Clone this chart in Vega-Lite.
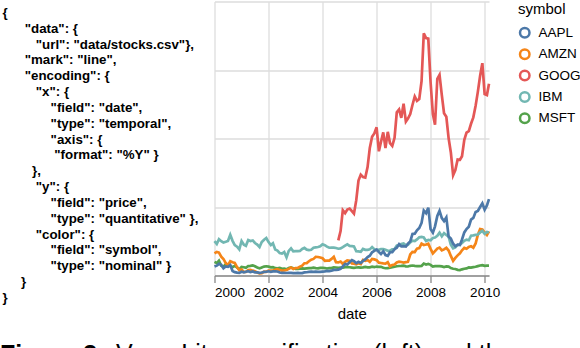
{
  "$schema": "https://vega.github.io/schema/vega-lite/v6.json",
  "background": "white",
  "padding": {"left": 0, "top": 1.5, "right": 0, "bottom": 0},
  "bounds": "flush",
  "spacing": 14.5,
  "config": {
    "font": "Liberation Sans",
    "view": {"stroke": null},
    "title": {"color": "#000"}
  },
  "hconcat": [
    {
      "width": 200,
      "height": 274,
      "title": {"text": "Figure 3.", "orient": "bottom", "anchor": "start", "frame": "group", "fontSize": 25, "fontWeight": "bold", "offset": 39, "color": "#000"},
      "data": {"values": [
        {"line": 0, "indent": 0, "code": "{"},
        {"line": 1, "indent": 6, "code": "\"data\": {"},
        {"line": 2, "indent": 9, "code": "\"url\": \"data/stocks.csv\"},"},
        {"line": 3, "indent": 6, "code": "\"mark\": \"line\","},
        {"line": 4, "indent": 6, "code": "\"encoding\": {"},
        {"line": 5, "indent": 9, "code": "\"x\": {"},
        {"line": 6, "indent": 13, "code": "\"field\": \"date\","},
        {"line": 7, "indent": 13, "code": "\"type\": \"temporal\","},
        {"line": 8, "indent": 13, "code": "\"axis\": {"},
        {"line": 9, "indent": 14, "code": "\"format\": \"%Y\" }"},
        {"line": 10, "indent": 8, "code": "},"},
        {"line": 11, "indent": 9, "code": "\"y\": {"},
        {"line": 12, "indent": 13, "code": "\"field\": \"price\","},
        {"line": 13, "indent": 13, "code": "\"type\": \"quantitative\" },"},
        {"line": 14, "indent": 9, "code": "\"color\": {"},
        {"line": 15, "indent": 13, "code": "\"field\": \"symbol\","},
        {"line": 16, "indent": 13, "code": "\"type\": \"nominal\" }"},
        {"line": 17, "indent": 5, "code": "}"},
        {"line": 18, "indent": 0, "code": "}"}
      ]},
      "mark": {"type": "text", "align": "left", "baseline": "middle", "fontSize": 13.3, "fontWeight": "bold", "color": "#000"},
      "encoding": {
        "x": {"field": "indent", "type": "quantitative", "scale": {"domain": [-0.6757, 53.378], "nice": false, "zero": false}, "axis": null},
        "y": {"field": "line", "type": "quantitative", "scale": {"domain": [-0.7263, 16.579], "reverse": true, "nice": false, "zero": false}, "axis": null},
        "text": {"field": "code", "type": "nominal"}
      }
    },
    {
      "width": 274.5,
      "height": 274,
      "title": {"text": "Vega-Lite specification (left) and the", "orient": "bottom", "anchor": "start", "frame": "group", "dx": -98.5, "fontSize": 25, "fontWeight": "normal", "offset": 21, "color": "#000"},
      "data": {
        "format": {"parse": {"date": "date:'%Y-%m'"}},
        "values": [
{"symbol":"MSFT","date":"2000-01","price":39.81},{"symbol":"MSFT","date":"2000-02","price":36.35},{"symbol":"MSFT","date":"2000-03","price":43.22},{"symbol":"MSFT","date":"2000-04","price":28.37},{"symbol":"MSFT","date":"2000-05","price":25.45},{"symbol":"MSFT","date":"2000-06","price":32.54},{"symbol":"MSFT","date":"2000-07","price":28.4},{"symbol":"MSFT","date":"2000-08","price":28.4},{"symbol":"MSFT","date":"2000-09","price":24.53},{"symbol":"MSFT","date":"2000-10","price":28.02},{"symbol":"MSFT","date":"2000-11","price":23.34},{"symbol":"MSFT","date":"2000-12","price":17.65},
{"symbol":"MSFT","date":"2001-01","price":24.84},{"symbol":"MSFT","date":"2001-02","price":24},{"symbol":"MSFT","date":"2001-03","price":22.25},{"symbol":"MSFT","date":"2001-04","price":27.56},{"symbol":"MSFT","date":"2001-05","price":28.14},{"symbol":"MSFT","date":"2001-06","price":29.7},{"symbol":"MSFT","date":"2001-07","price":26.93},{"symbol":"MSFT","date":"2001-08","price":23.21},{"symbol":"MSFT","date":"2001-09","price":20.82},{"symbol":"MSFT","date":"2001-10","price":23.65},{"symbol":"MSFT","date":"2001-11","price":26.12},{"symbol":"MSFT","date":"2001-12","price":26.95},
{"symbol":"MSFT","date":"2002-01","price":25.92},{"symbol":"MSFT","date":"2002-02","price":23.73},{"symbol":"MSFT","date":"2002-03","price":24.53},{"symbol":"MSFT","date":"2002-04","price":21.26},{"symbol":"MSFT","date":"2002-05","price":20.71},{"symbol":"MSFT","date":"2002-06","price":22.25},{"symbol":"MSFT","date":"2002-07","price":19.52},{"symbol":"MSFT","date":"2002-08","price":19.97},{"symbol":"MSFT","date":"2002-09","price":17.79},{"symbol":"MSFT","date":"2002-10","price":21.75},{"symbol":"MSFT","date":"2002-11","price":23.46},{"symbol":"MSFT","date":"2002-12","price":21.03},
{"symbol":"MSFT","date":"2003-01","price":19.31},{"symbol":"MSFT","date":"2003-02","price":19.34},{"symbol":"MSFT","date":"2003-03","price":19.76},{"symbol":"MSFT","date":"2003-04","price":20.87},{"symbol":"MSFT","date":"2003-05","price":20.09},{"symbol":"MSFT","date":"2003-06","price":20.93},{"symbol":"MSFT","date":"2003-07","price":21.56},{"symbol":"MSFT","date":"2003-08","price":21.65},{"symbol":"MSFT","date":"2003-09","price":22.69},{"symbol":"MSFT","date":"2003-10","price":21.45},{"symbol":"MSFT","date":"2003-11","price":21.1},{"symbol":"MSFT","date":"2003-12","price":22.46},
{"symbol":"MSFT","date":"2004-01","price":22.69},{"symbol":"MSFT","date":"2004-02","price":21.77},{"symbol":"MSFT","date":"2004-03","price":20.46},{"symbol":"MSFT","date":"2004-04","price":21.45},{"symbol":"MSFT","date":"2004-05","price":21.53},{"symbol":"MSFT","date":"2004-06","price":23.44},{"symbol":"MSFT","date":"2004-07","price":23.38},{"symbol":"MSFT","date":"2004-08","price":22.47},{"symbol":"MSFT","date":"2004-09","price":22.76},{"symbol":"MSFT","date":"2004-10","price":23.02},{"symbol":"MSFT","date":"2004-11","price":24.6},{"symbol":"MSFT","date":"2004-12","price":24.52},
{"symbol":"MSFT","date":"2005-01","price":24.11},{"symbol":"MSFT","date":"2005-02","price":23.15},{"symbol":"MSFT","date":"2005-03","price":22.24},{"symbol":"MSFT","date":"2005-04","price":23.28},{"symbol":"MSFT","date":"2005-05","price":23.82},{"symbol":"MSFT","date":"2005-06","price":22.93},{"symbol":"MSFT","date":"2005-07","price":23.64},{"symbol":"MSFT","date":"2005-08","price":25.35},{"symbol":"MSFT","date":"2005-09","price":23.83},{"symbol":"MSFT","date":"2005-10","price":23.8},{"symbol":"MSFT","date":"2005-11","price":25.71},{"symbol":"MSFT","date":"2005-12","price":24.29},
{"symbol":"MSFT","date":"2006-01","price":26.14},{"symbol":"MSFT","date":"2006-02","price":25.04},{"symbol":"MSFT","date":"2006-03","price":25.36},{"symbol":"MSFT","date":"2006-04","price":22.5},{"symbol":"MSFT","date":"2006-05","price":21.19},{"symbol":"MSFT","date":"2006-06","price":21.8},{"symbol":"MSFT","date":"2006-07","price":22.51},{"symbol":"MSFT","date":"2006-08","price":24.13},{"symbol":"MSFT","date":"2006-09","price":25.68},{"symbol":"MSFT","date":"2006-10","price":26.96},{"symbol":"MSFT","date":"2006-11","price":27.66},{"symbol":"MSFT","date":"2006-12","price":28.13},
{"symbol":"MSFT","date":"2007-01","price":29.07},{"symbol":"MSFT","date":"2007-02","price":26.63},{"symbol":"MSFT","date":"2007-03","price":26.35},{"symbol":"MSFT","date":"2007-04","price":28.3},{"symbol":"MSFT","date":"2007-05","price":29.11},{"symbol":"MSFT","date":"2007-06","price":27.95},{"symbol":"MSFT","date":"2007-07","price":27.5},{"symbol":"MSFT","date":"2007-08","price":27.34},{"symbol":"MSFT","date":"2007-09","price":28.04},{"symbol":"MSFT","date":"2007-10","price":35.03},{"symbol":"MSFT","date":"2007-11","price":32.09},{"symbol":"MSFT","date":"2007-12","price":34},
{"symbol":"MSFT","date":"2008-01","price":31.13},{"symbol":"MSFT","date":"2008-02","price":26.07},{"symbol":"MSFT","date":"2008-03","price":27.21},{"symbol":"MSFT","date":"2008-04","price":27.34},{"symbol":"MSFT","date":"2008-05","price":27.25},{"symbol":"MSFT","date":"2008-06","price":26.47},{"symbol":"MSFT","date":"2008-07","price":24.75},{"symbol":"MSFT","date":"2008-08","price":26.36},{"symbol":"MSFT","date":"2008-09","price":25.78},{"symbol":"MSFT","date":"2008-10","price":21.57},{"symbol":"MSFT","date":"2008-11","price":19.66},{"symbol":"MSFT","date":"2008-12","price":18.91},
{"symbol":"MSFT","date":"2009-01","price":16.63},{"symbol":"MSFT","date":"2009-02","price":15.81},{"symbol":"MSFT","date":"2009-03","price":17.99},{"symbol":"MSFT","date":"2009-04","price":19.84},{"symbol":"MSFT","date":"2009-05","price":20.59},{"symbol":"MSFT","date":"2009-06","price":23.42},{"symbol":"MSFT","date":"2009-07","price":23.18},{"symbol":"MSFT","date":"2009-08","price":24.43},{"symbol":"MSFT","date":"2009-09","price":25.49},{"symbol":"MSFT","date":"2009-10","price":27.48},{"symbol":"MSFT","date":"2009-11","price":29.27},{"symbol":"MSFT","date":"2009-12","price":30.34},
{"symbol":"MSFT","date":"2010-01","price":28.05},{"symbol":"MSFT","date":"2010-02","price":28.67},{"symbol":"MSFT","date":"2010-03","price":28.8},
{"symbol":"AMZN","date":"2000-01","price":64.56},{"symbol":"AMZN","date":"2000-02","price":68.87},{"symbol":"AMZN","date":"2000-03","price":67},{"symbol":"AMZN","date":"2000-04","price":55.19},{"symbol":"AMZN","date":"2000-05","price":48.31},{"symbol":"AMZN","date":"2000-06","price":36.31},{"symbol":"AMZN","date":"2000-07","price":30.12},{"symbol":"AMZN","date":"2000-08","price":41.5},{"symbol":"AMZN","date":"2000-09","price":38.44},{"symbol":"AMZN","date":"2000-10","price":36.62},{"symbol":"AMZN","date":"2000-11","price":24.69},{"symbol":"AMZN","date":"2000-12","price":15.56},
{"symbol":"AMZN","date":"2001-01","price":17.31},{"symbol":"AMZN","date":"2001-02","price":10.19},{"symbol":"AMZN","date":"2001-03","price":10.23},{"symbol":"AMZN","date":"2001-04","price":15.78},{"symbol":"AMZN","date":"2001-05","price":16.69},{"symbol":"AMZN","date":"2001-06","price":14.15},{"symbol":"AMZN","date":"2001-07","price":12.49},{"symbol":"AMZN","date":"2001-08","price":8.94},{"symbol":"AMZN","date":"2001-09","price":5.97},{"symbol":"AMZN","date":"2001-10","price":6.98},{"symbol":"AMZN","date":"2001-11","price":11.32},{"symbol":"AMZN","date":"2001-12","price":10.82},
{"symbol":"AMZN","date":"2002-01","price":14.19},{"symbol":"AMZN","date":"2002-02","price":14.1},{"symbol":"AMZN","date":"2002-03","price":14.3},{"symbol":"AMZN","date":"2002-04","price":16.69},{"symbol":"AMZN","date":"2002-05","price":18.23},{"symbol":"AMZN","date":"2002-06","price":16.25},{"symbol":"AMZN","date":"2002-07","price":14.45},{"symbol":"AMZN","date":"2002-08","price":14.94},{"symbol":"AMZN","date":"2002-09","price":15.93},{"symbol":"AMZN","date":"2002-10","price":19.36},{"symbol":"AMZN","date":"2002-11","price":23.35},{"symbol":"AMZN","date":"2002-12","price":18.89},
{"symbol":"AMZN","date":"2003-01","price":21.85},{"symbol":"AMZN","date":"2003-02","price":22.01},{"symbol":"AMZN","date":"2003-03","price":26.03},{"symbol":"AMZN","date":"2003-04","price":28.69},{"symbol":"AMZN","date":"2003-05","price":35.89},{"symbol":"AMZN","date":"2003-06","price":36.32},{"symbol":"AMZN","date":"2003-07","price":41.64},{"symbol":"AMZN","date":"2003-08","price":46.32},{"symbol":"AMZN","date":"2003-09","price":48.43},{"symbol":"AMZN","date":"2003-10","price":54.43},{"symbol":"AMZN","date":"2003-11","price":53.97},{"symbol":"AMZN","date":"2003-12","price":52.62},
{"symbol":"AMZN","date":"2004-01","price":50.4},{"symbol":"AMZN","date":"2004-02","price":43.01},{"symbol":"AMZN","date":"2004-03","price":43.28},{"symbol":"AMZN","date":"2004-04","price":43.6},{"symbol":"AMZN","date":"2004-05","price":48.5},{"symbol":"AMZN","date":"2004-06","price":54.4},{"symbol":"AMZN","date":"2004-07","price":38.92},{"symbol":"AMZN","date":"2004-08","price":38.14},{"symbol":"AMZN","date":"2004-09","price":40.86},{"symbol":"AMZN","date":"2004-10","price":34.13},{"symbol":"AMZN","date":"2004-11","price":39.68},{"symbol":"AMZN","date":"2004-12","price":44.29},
{"symbol":"AMZN","date":"2005-01","price":43.22},{"symbol":"AMZN","date":"2005-02","price":35.18},{"symbol":"AMZN","date":"2005-03","price":34.27},{"symbol":"AMZN","date":"2005-04","price":32.36},{"symbol":"AMZN","date":"2005-05","price":35.51},{"symbol":"AMZN","date":"2005-06","price":33.09},{"symbol":"AMZN","date":"2005-07","price":45.15},{"symbol":"AMZN","date":"2005-08","price":42.7},{"symbol":"AMZN","date":"2005-09","price":45.3},{"symbol":"AMZN","date":"2005-10","price":39.86},{"symbol":"AMZN","date":"2005-11","price":48.46},{"symbol":"AMZN","date":"2005-12","price":47.15},
{"symbol":"AMZN","date":"2006-01","price":44.82},{"symbol":"AMZN","date":"2006-02","price":37.44},{"symbol":"AMZN","date":"2006-03","price":36.53},{"symbol":"AMZN","date":"2006-04","price":35.21},{"symbol":"AMZN","date":"2006-05","price":34.61},{"symbol":"AMZN","date":"2006-06","price":38.68},{"symbol":"AMZN","date":"2006-07","price":26.89},{"symbol":"AMZN","date":"2006-08","price":30.83},{"symbol":"AMZN","date":"2006-09","price":32.12},{"symbol":"AMZN","date":"2006-10","price":38.09},{"symbol":"AMZN","date":"2006-11","price":40.34},{"symbol":"AMZN","date":"2006-12","price":39.46},
{"symbol":"AMZN","date":"2007-01","price":37.67},{"symbol":"AMZN","date":"2007-02","price":39.14},{"symbol":"AMZN","date":"2007-03","price":39.79},{"symbol":"AMZN","date":"2007-04","price":61.33},{"symbol":"AMZN","date":"2007-05","price":69.14},{"symbol":"AMZN","date":"2007-06","price":68.41},{"symbol":"AMZN","date":"2007-07","price":78.54},{"symbol":"AMZN","date":"2007-08","price":79.91},{"symbol":"AMZN","date":"2007-09","price":93.15},{"symbol":"AMZN","date":"2007-10","price":89.15},{"symbol":"AMZN","date":"2007-11","price":90.56},{"symbol":"AMZN","date":"2007-12","price":92.64},
{"symbol":"AMZN","date":"2008-01","price":77.7},{"symbol":"AMZN","date":"2008-02","price":64.47},{"symbol":"AMZN","date":"2008-03","price":71.3},{"symbol":"AMZN","date":"2008-04","price":78.63},{"symbol":"AMZN","date":"2008-05","price":81.62},{"symbol":"AMZN","date":"2008-06","price":73.33},{"symbol":"AMZN","date":"2008-07","price":76.34},{"symbol":"AMZN","date":"2008-08","price":80.81},{"symbol":"AMZN","date":"2008-09","price":72.76},{"symbol":"AMZN","date":"2008-10","price":57.24},{"symbol":"AMZN","date":"2008-11","price":42.7},{"symbol":"AMZN","date":"2008-12","price":51.28},
{"symbol":"AMZN","date":"2009-01","price":58.82},{"symbol":"AMZN","date":"2009-02","price":64.79},{"symbol":"AMZN","date":"2009-03","price":73.44},{"symbol":"AMZN","date":"2009-04","price":80.52},{"symbol":"AMZN","date":"2009-05","price":77.99},{"symbol":"AMZN","date":"2009-06","price":83.66},{"symbol":"AMZN","date":"2009-07","price":85.76},{"symbol":"AMZN","date":"2009-08","price":81.19},{"symbol":"AMZN","date":"2009-09","price":93.36},{"symbol":"AMZN","date":"2009-10","price":118.81},{"symbol":"AMZN","date":"2009-11","price":135.91},{"symbol":"AMZN","date":"2009-12","price":134.52},
{"symbol":"AMZN","date":"2010-01","price":125.41},{"symbol":"AMZN","date":"2010-02","price":118.4},{"symbol":"AMZN","date":"2010-03","price":128.82},
{"symbol":"IBM","date":"2000-01","price":100.52},{"symbol":"IBM","date":"2000-02","price":92.11},{"symbol":"IBM","date":"2000-03","price":106.11},{"symbol":"IBM","date":"2000-04","price":99.95},{"symbol":"IBM","date":"2000-05","price":96.31},{"symbol":"IBM","date":"2000-06","price":98.33},{"symbol":"IBM","date":"2000-07","price":100.74},{"symbol":"IBM","date":"2000-08","price":118.62},{"symbol":"IBM","date":"2000-09","price":101.19},{"symbol":"IBM","date":"2000-10","price":88.5},{"symbol":"IBM","date":"2000-11","price":84.12},{"symbol":"IBM","date":"2000-12","price":76.47},
{"symbol":"IBM","date":"2001-01","price":100.76},{"symbol":"IBM","date":"2001-02","price":89.98},{"symbol":"IBM","date":"2001-03","price":86.63},{"symbol":"IBM","date":"2001-04","price":103.7},{"symbol":"IBM","date":"2001-05","price":100.82},{"symbol":"IBM","date":"2001-06","price":102.35},{"symbol":"IBM","date":"2001-07","price":94.87},{"symbol":"IBM","date":"2001-08","price":90.25},{"symbol":"IBM","date":"2001-09","price":82.82},{"symbol":"IBM","date":"2001-10","price":97.58},{"symbol":"IBM","date":"2001-11","price":104.5},{"symbol":"IBM","date":"2001-12","price":109.36},
{"symbol":"IBM","date":"2002-01","price":97.54},{"symbol":"IBM","date":"2002-02","price":88.82},{"symbol":"IBM","date":"2002-03","price":94.15},{"symbol":"IBM","date":"2002-04","price":75.82},{"symbol":"IBM","date":"2002-05","price":72.97},{"symbol":"IBM","date":"2002-06","price":65.31},{"symbol":"IBM","date":"2002-07","price":63.86},{"symbol":"IBM","date":"2002-08","price":68.52},{"symbol":"IBM","date":"2002-09","price":53.01},{"symbol":"IBM","date":"2002-10","price":71.76},{"symbol":"IBM","date":"2002-11","price":79.16},{"symbol":"IBM","date":"2002-12","price":70.58},
{"symbol":"IBM","date":"2003-01","price":71.22},{"symbol":"IBM","date":"2003-02","price":71.13},{"symbol":"IBM","date":"2003-03","price":71.57},{"symbol":"IBM","date":"2003-04","price":77.47},{"symbol":"IBM","date":"2003-05","price":80.48},{"symbol":"IBM","date":"2003-06","price":75.42},{"symbol":"IBM","date":"2003-07","price":74.28},{"symbol":"IBM","date":"2003-08","price":75.12},{"symbol":"IBM","date":"2003-09","price":80.91},{"symbol":"IBM","date":"2003-10","price":81.96},{"symbol":"IBM","date":"2003-11","price":83.08},{"symbol":"IBM","date":"2003-12","price":85.05},
{"symbol":"IBM","date":"2004-01","price":91.06},{"symbol":"IBM","date":"2004-02","price":88.7},{"symbol":"IBM","date":"2004-03","price":84.41},{"symbol":"IBM","date":"2004-04","price":81.04},{"symbol":"IBM","date":"2004-05","price":81.59},{"symbol":"IBM","date":"2004-06","price":81.19},{"symbol":"IBM","date":"2004-07","price":80.19},{"symbol":"IBM","date":"2004-08","price":78.17},{"symbol":"IBM","date":"2004-09","price":79.13},{"symbol":"IBM","date":"2004-10","price":82.84},{"symbol":"IBM","date":"2004-11","price":87.15},{"symbol":"IBM","date":"2004-12","price":91.16},
{"symbol":"IBM","date":"2005-01","price":86.39},{"symbol":"IBM","date":"2005-02","price":85.78},{"symbol":"IBM","date":"2005-03","price":84.66},{"symbol":"IBM","date":"2005-04","price":70.77},{"symbol":"IBM","date":"2005-05","price":70.18},{"symbol":"IBM","date":"2005-06","price":68.93},{"symbol":"IBM","date":"2005-07","price":77.53},{"symbol":"IBM","date":"2005-08","price":75.07},{"symbol":"IBM","date":"2005-09","price":74.7},{"symbol":"IBM","date":"2005-10","price":76.25},{"symbol":"IBM","date":"2005-11","price":82.98},{"symbol":"IBM","date":"2005-12","price":76.73},
{"symbol":"IBM","date":"2006-01","price":75.89},{"symbol":"IBM","date":"2006-02","price":75.09},{"symbol":"IBM","date":"2006-03","price":77.17},{"symbol":"IBM","date":"2006-04","price":77.05},{"symbol":"IBM","date":"2006-05","price":75.04},{"symbol":"IBM","date":"2006-06","price":72.15},{"symbol":"IBM","date":"2006-07","price":72.7},{"symbol":"IBM","date":"2006-08","price":76.35},{"symbol":"IBM","date":"2006-09","price":77.26},{"symbol":"IBM","date":"2006-10","price":87.06},{"symbol":"IBM","date":"2006-11","price":86.95},{"symbol":"IBM","date":"2006-12","price":91.9},
{"symbol":"IBM","date":"2007-01","price":93.79},{"symbol":"IBM","date":"2007-02","price":88.18},{"symbol":"IBM","date":"2007-03","price":89.44},{"symbol":"IBM","date":"2007-04","price":96.98},{"symbol":"IBM","date":"2007-05","price":101.54},{"symbol":"IBM","date":"2007-06","price":100.25},{"symbol":"IBM","date":"2007-07","price":105.4},{"symbol":"IBM","date":"2007-08","price":111.54},{"symbol":"IBM","date":"2007-09","price":112.6},{"symbol":"IBM","date":"2007-10","price":111},{"symbol":"IBM","date":"2007-11","price":100.9},{"symbol":"IBM","date":"2007-12","price":103.7},
{"symbol":"IBM","date":"2008-01","price":102.75},{"symbol":"IBM","date":"2008-02","price":109.64},{"symbol":"IBM","date":"2008-03","price":110.87},{"symbol":"IBM","date":"2008-04","price":116.23},{"symbol":"IBM","date":"2008-05","price":125.14},{"symbol":"IBM","date":"2008-06","price":114.6},{"symbol":"IBM","date":"2008-07","price":123.74},{"symbol":"IBM","date":"2008-08","price":118.16},{"symbol":"IBM","date":"2008-09","price":113.53},{"symbol":"IBM","date":"2008-10","price":90.24},{"symbol":"IBM","date":"2008-11","price":79.65},{"symbol":"IBM","date":"2008-12","price":82.15},
{"symbol":"IBM","date":"2009-01","price":89.46},{"symbol":"IBM","date":"2009-02","price":90.32},{"symbol":"IBM","date":"2009-03","price":95.09},{"symbol":"IBM","date":"2009-04","price":101.29},{"symbol":"IBM","date":"2009-05","price":104.85},{"symbol":"IBM","date":"2009-06","price":103.01},{"symbol":"IBM","date":"2009-07","price":116.34},{"symbol":"IBM","date":"2009-08","price":117},{"symbol":"IBM","date":"2009-09","price":118.55},{"symbol":"IBM","date":"2009-10","price":119.54},{"symbol":"IBM","date":"2009-11","price":125.79},{"symbol":"IBM","date":"2009-12","price":130.32},
{"symbol":"IBM","date":"2010-01","price":121.85},{"symbol":"IBM","date":"2010-02","price":127.16},{"symbol":"IBM","date":"2010-03","price":125.55},
{"symbol":"GOOG","date":"2004-08","price":102.37},{"symbol":"GOOG","date":"2004-09","price":129.6},{"symbol":"GOOG","date":"2004-10","price":190.64},{"symbol":"GOOG","date":"2004-11","price":181.98},{"symbol":"GOOG","date":"2004-12","price":192.79},
{"symbol":"GOOG","date":"2005-01","price":195.62},{"symbol":"GOOG","date":"2005-02","price":187.99},{"symbol":"GOOG","date":"2005-03","price":180.51},{"symbol":"GOOG","date":"2005-04","price":220},{"symbol":"GOOG","date":"2005-05","price":277.27},{"symbol":"GOOG","date":"2005-06","price":294.15},{"symbol":"GOOG","date":"2005-07","price":287.76},{"symbol":"GOOG","date":"2005-08","price":286},{"symbol":"GOOG","date":"2005-09","price":316.46},{"symbol":"GOOG","date":"2005-10","price":372.14},{"symbol":"GOOG","date":"2005-11","price":404.91},{"symbol":"GOOG","date":"2005-12","price":414.86},
{"symbol":"GOOG","date":"2006-01","price":432.66},{"symbol":"GOOG","date":"2006-02","price":362.62},{"symbol":"GOOG","date":"2006-03","price":390},{"symbol":"GOOG","date":"2006-04","price":417.94},{"symbol":"GOOG","date":"2006-05","price":371.82},{"symbol":"GOOG","date":"2006-06","price":419.33},{"symbol":"GOOG","date":"2006-07","price":386.6},{"symbol":"GOOG","date":"2006-08","price":378.53},{"symbol":"GOOG","date":"2006-09","price":401.9},{"symbol":"GOOG","date":"2006-10","price":476.39},{"symbol":"GOOG","date":"2006-11","price":484.81},{"symbol":"GOOG","date":"2006-12","price":460.48},
{"symbol":"GOOG","date":"2007-01","price":501.5},{"symbol":"GOOG","date":"2007-02","price":449.45},{"symbol":"GOOG","date":"2007-03","price":458.16},{"symbol":"GOOG","date":"2007-04","price":471.38},{"symbol":"GOOG","date":"2007-05","price":497.91},{"symbol":"GOOG","date":"2007-06","price":522.7},{"symbol":"GOOG","date":"2007-07","price":510},{"symbol":"GOOG","date":"2007-08","price":515.25},{"symbol":"GOOG","date":"2007-09","price":567.27},{"symbol":"GOOG","date":"2007-10","price":707},{"symbol":"GOOG","date":"2007-11","price":693},{"symbol":"GOOG","date":"2007-12","price":691.48},
{"symbol":"GOOG","date":"2008-01","price":564.3},{"symbol":"GOOG","date":"2008-02","price":471.18},{"symbol":"GOOG","date":"2008-03","price":440.47},{"symbol":"GOOG","date":"2008-04","price":574.29},{"symbol":"GOOG","date":"2008-05","price":585.8},{"symbol":"GOOG","date":"2008-06","price":526.42},{"symbol":"GOOG","date":"2008-07","price":473.75},{"symbol":"GOOG","date":"2008-08","price":463.29},{"symbol":"GOOG","date":"2008-09","price":400.52},{"symbol":"GOOG","date":"2008-10","price":359.36},{"symbol":"GOOG","date":"2008-11","price":292.96},{"symbol":"GOOG","date":"2008-12","price":307.65},
{"symbol":"GOOG","date":"2009-01","price":338.53},{"symbol":"GOOG","date":"2009-02","price":337.99},{"symbol":"GOOG","date":"2009-03","price":348.06},{"symbol":"GOOG","date":"2009-04","price":395.97},{"symbol":"GOOG","date":"2009-05","price":417.23},{"symbol":"GOOG","date":"2009-06","price":421.59},{"symbol":"GOOG","date":"2009-07","price":443.05},{"symbol":"GOOG","date":"2009-08","price":461.67},{"symbol":"GOOG","date":"2009-09","price":495.85},{"symbol":"GOOG","date":"2009-10","price":536.12},{"symbol":"GOOG","date":"2009-11","price":583},{"symbol":"GOOG","date":"2009-12","price":619.98},
{"symbol":"GOOG","date":"2010-01","price":529.94},{"symbol":"GOOG","date":"2010-02","price":526.8},{"symbol":"GOOG","date":"2010-03","price":560.19},
{"symbol":"AAPL","date":"2000-01","price":25.94},{"symbol":"AAPL","date":"2000-02","price":28.66},{"symbol":"AAPL","date":"2000-03","price":33.95},{"symbol":"AAPL","date":"2000-04","price":31.01},{"symbol":"AAPL","date":"2000-05","price":21},{"symbol":"AAPL","date":"2000-06","price":26.19},{"symbol":"AAPL","date":"2000-07","price":25.41},{"symbol":"AAPL","date":"2000-08","price":30.47},{"symbol":"AAPL","date":"2000-09","price":12.88},{"symbol":"AAPL","date":"2000-10","price":9.78},{"symbol":"AAPL","date":"2000-11","price":8.25},{"symbol":"AAPL","date":"2000-12","price":7.44},
{"symbol":"AAPL","date":"2001-01","price":10.81},{"symbol":"AAPL","date":"2001-02","price":9.12},{"symbol":"AAPL","date":"2001-03","price":11.03},{"symbol":"AAPL","date":"2001-04","price":12.74},{"symbol":"AAPL","date":"2001-05","price":9.98},{"symbol":"AAPL","date":"2001-06","price":11.62},{"symbol":"AAPL","date":"2001-07","price":9.4},{"symbol":"AAPL","date":"2001-08","price":9.27},{"symbol":"AAPL","date":"2001-09","price":7.76},{"symbol":"AAPL","date":"2001-10","price":8.78},{"symbol":"AAPL","date":"2001-11","price":10.65},{"symbol":"AAPL","date":"2001-12","price":10.95},
{"symbol":"AAPL","date":"2002-01","price":12.36},{"symbol":"AAPL","date":"2002-02","price":10.85},{"symbol":"AAPL","date":"2002-03","price":11.84},{"symbol":"AAPL","date":"2002-04","price":12.14},{"symbol":"AAPL","date":"2002-05","price":11.65},{"symbol":"AAPL","date":"2002-06","price":8.86},{"symbol":"AAPL","date":"2002-07","price":7.63},{"symbol":"AAPL","date":"2002-08","price":7.38},{"symbol":"AAPL","date":"2002-09","price":7.25},{"symbol":"AAPL","date":"2002-10","price":8.03},{"symbol":"AAPL","date":"2002-11","price":7.75},{"symbol":"AAPL","date":"2002-12","price":7.16},
{"symbol":"AAPL","date":"2003-01","price":7.18},{"symbol":"AAPL","date":"2003-02","price":7.51},{"symbol":"AAPL","date":"2003-03","price":7.07},{"symbol":"AAPL","date":"2003-04","price":7.11},{"symbol":"AAPL","date":"2003-05","price":8.98},{"symbol":"AAPL","date":"2003-06","price":9.53},{"symbol":"AAPL","date":"2003-07","price":10.54},{"symbol":"AAPL","date":"2003-08","price":11.31},{"symbol":"AAPL","date":"2003-09","price":10.36},{"symbol":"AAPL","date":"2003-10","price":11.44},{"symbol":"AAPL","date":"2003-11","price":10.45},{"symbol":"AAPL","date":"2003-12","price":10.69},
{"symbol":"AAPL","date":"2004-01","price":11.28},{"symbol":"AAPL","date":"2004-02","price":11.96},{"symbol":"AAPL","date":"2004-03","price":13.52},{"symbol":"AAPL","date":"2004-04","price":12.89},{"symbol":"AAPL","date":"2004-05","price":14.03},{"symbol":"AAPL","date":"2004-06","price":16.27},{"symbol":"AAPL","date":"2004-07","price":16.17},{"symbol":"AAPL","date":"2004-08","price":17.25},{"symbol":"AAPL","date":"2004-09","price":19.38},{"symbol":"AAPL","date":"2004-10","price":26.2},{"symbol":"AAPL","date":"2004-11","price":33.53},{"symbol":"AAPL","date":"2004-12","price":32.2},
{"symbol":"AAPL","date":"2005-01","price":38.45},{"symbol":"AAPL","date":"2005-02","price":44.86},{"symbol":"AAPL","date":"2005-03","price":41.67},{"symbol":"AAPL","date":"2005-04","price":36.06},{"symbol":"AAPL","date":"2005-05","price":39.76},{"symbol":"AAPL","date":"2005-06","price":36.81},{"symbol":"AAPL","date":"2005-07","price":42.65},{"symbol":"AAPL","date":"2005-08","price":46.89},{"symbol":"AAPL","date":"2005-09","price":53.61},{"symbol":"AAPL","date":"2005-10","price":57.59},{"symbol":"AAPL","date":"2005-11","price":67.82},{"symbol":"AAPL","date":"2005-12","price":71.89},
{"symbol":"AAPL","date":"2006-01","price":75.51},{"symbol":"AAPL","date":"2006-02","price":68.49},{"symbol":"AAPL","date":"2006-03","price":62.72},{"symbol":"AAPL","date":"2006-04","price":70.39},{"symbol":"AAPL","date":"2006-05","price":59.77},{"symbol":"AAPL","date":"2006-06","price":57.27},{"symbol":"AAPL","date":"2006-07","price":67.96},{"symbol":"AAPL","date":"2006-08","price":67.85},{"symbol":"AAPL","date":"2006-09","price":76.98},{"symbol":"AAPL","date":"2006-10","price":81.08},{"symbol":"AAPL","date":"2006-11","price":91.66},{"symbol":"AAPL","date":"2006-12","price":84.84},
{"symbol":"AAPL","date":"2007-01","price":85.73},{"symbol":"AAPL","date":"2007-02","price":84.61},{"symbol":"AAPL","date":"2007-03","price":92.91},{"symbol":"AAPL","date":"2007-04","price":99.8},{"symbol":"AAPL","date":"2007-05","price":121.19},{"symbol":"AAPL","date":"2007-06","price":122.04},{"symbol":"AAPL","date":"2007-07","price":131.76},{"symbol":"AAPL","date":"2007-08","price":138.48},{"symbol":"AAPL","date":"2007-09","price":153.47},{"symbol":"AAPL","date":"2007-10","price":189.95},{"symbol":"AAPL","date":"2007-11","price":182.22},{"symbol":"AAPL","date":"2007-12","price":198.08},
{"symbol":"AAPL","date":"2008-01","price":135.36},{"symbol":"AAPL","date":"2008-02","price":125.02},{"symbol":"AAPL","date":"2008-03","price":143.5},{"symbol":"AAPL","date":"2008-04","price":173.95},{"symbol":"AAPL","date":"2008-05","price":188.75},{"symbol":"AAPL","date":"2008-06","price":167.44},{"symbol":"AAPL","date":"2008-07","price":158.95},{"symbol":"AAPL","date":"2008-08","price":169.53},{"symbol":"AAPL","date":"2008-09","price":113.66},{"symbol":"AAPL","date":"2008-10","price":107.59},{"symbol":"AAPL","date":"2008-11","price":92.67},{"symbol":"AAPL","date":"2008-12","price":85.35},
{"symbol":"AAPL","date":"2009-01","price":90.13},{"symbol":"AAPL","date":"2009-02","price":89.31},{"symbol":"AAPL","date":"2009-03","price":105.12},{"symbol":"AAPL","date":"2009-04","price":125.83},{"symbol":"AAPL","date":"2009-05","price":135.81},{"symbol":"AAPL","date":"2009-06","price":142.43},{"symbol":"AAPL","date":"2009-07","price":163.39},{"symbol":"AAPL","date":"2009-08","price":168.21},{"symbol":"AAPL","date":"2009-09","price":185.35},{"symbol":"AAPL","date":"2009-10","price":188.5},{"symbol":"AAPL","date":"2009-11","price":199.91},{"symbol":"AAPL","date":"2009-12","price":210.73},
{"symbol":"AAPL","date":"2010-01","price":192.06},{"symbol":"AAPL","date":"2010-02","price":204.62},{"symbol":"AAPL","date":"2010-03","price":223.02}
        ]
      },
      "mark": {"type": "line", "strokeWidth": 2.7},
      "encoding": {
        "x": {
          "field": "date", "type": "temporal",
          "scale": {"nice": false},
          "axis": {
            "format": "%Y", "title": "date",
            "tickCount": {"interval": "year", "step": 2},
            "labelFontSize": 13.5, "labelColor": "#000", "labelPadding": 3,
            "titleFontSize": 15, "titleFontWeight": "normal", "titleColor": "#000", "titlePadding": 7,
            "domainColor": "#888", "domainWidth": 1.3,
            "tickColor": "#888", "tickWidth": 1.3, "tickSize": 7,
            "gridColor": "#ddd", "gridWidth": 1.3
          }
        },
        "y": {
          "field": "price", "type": "quantitative",
          "scale": {"domain": [0, 800]},
          "axis": {"title": null, "labels": false, "ticks": false, "domain": false, "grid": true, "tickCount": 4, "gridColor": "#ddd", "gridWidth": 1.3}
        },
        "color": {
          "field": "symbol", "type": "nominal",
          "legend": {
            "title": "symbol", "offset": 4, "padding": 0,
            "symbolType": "circle", "symbolSize": 90, "symbolStrokeWidth": 2.5, "symbolFillColor": "transparent",
            "titleFontSize": 15, "titleFontWeight": "normal", "titleColor": "#000", "titlePadding": 9.5,
            "labelFontSize": 13.5, "labelColor": "#000", "labelOffset": 7, "rowPadding": 1.4
          }
        }
      }
    }
  ]
}
